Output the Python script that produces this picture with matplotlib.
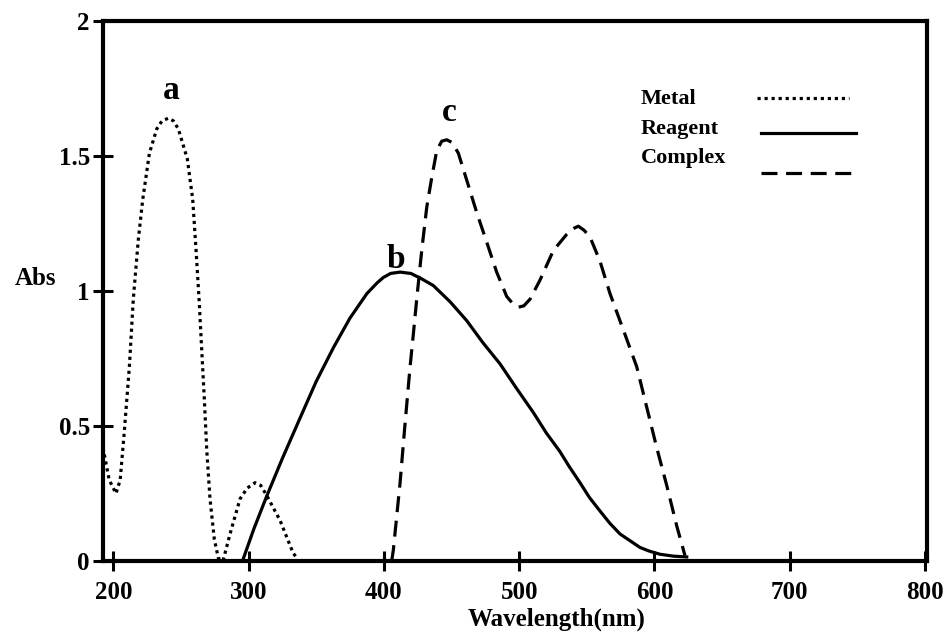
import matplotlib
matplotlib.use('Agg')
from matplotlib import pyplot as plt
import numpy as np

# wavelength (nm) and absorbance
metal_wl = [192.4, 197.0, 202.0, 205.1, 208.0, 211.9, 214.8, 218.5, 221.8, 226.7, 232.1,
            236.0, 240.7, 244.5, 248.1, 254.7, 258.7, 261.2, 263.4, 265.4, 267.3, 269.1,
            271.5, 274.7, 277.7, 281.1, 286.3, 293.7, 299.0, 304.8, 309.0, 313.7, 323.3,
            332.9, 335.8]
metal_abs = [0.42, 0.30, 0.25, 0.30, 0.47, 0.72, 0.97, 1.19, 1.34, 1.51, 1.60,
             1.63, 1.64, 1.63, 1.60, 1.49, 1.34, 1.15, 0.97, 0.78, 0.60, 0.41,
             0.23, 0.08, 0.01, 0.0, 0.10, 0.23, 0.27, 0.29, 0.28, 0.24, 0.15,
             0.03, 0.01]

reagent_wl = [295.5, 304.0, 313.4, 325.0, 338.1, 350.0, 362.7, 375.0, 387.4, 395.0,
              399.6, 405.0, 412.0, 420.0, 428.0, 436.6, 449.0, 461.3, 473.0, 485.9,
              498.0, 510.5, 520.0, 530.2, 537.0, 545.0, 552.0, 559.8, 567.0, 574.6,
              582.0, 589.4, 596.0, 604.1, 614.0, 623.9]
reagent_abs = [0.0, 0.12, 0.24, 0.38, 0.53, 0.665, 0.79, 0.90, 0.99, 1.03,
               1.05, 1.065, 1.07, 1.065, 1.045, 1.02, 0.96, 0.89, 0.81, 0.73,
               0.64, 0.55, 0.475, 0.405, 0.35, 0.29, 0.235, 0.185, 0.14, 0.10,
               0.075, 0.05, 0.037, 0.025, 0.018, 0.015]

complex_wl = [405.8, 407.0, 412.0, 415.7, 419.4, 421.8, 424.3, 428.0, 431.7, 435.4, 439.1,
              442.8, 446.5, 450.5, 455.1, 461.3, 468.7, 476.1, 483.4, 490.8, 495.0, 499.4,
              503.5, 508.1, 515.4, 525.3, 535.2, 539.5, 543.8, 548.0, 552.4, 559.8, 567.2,
              578.2, 586.9, 594.3, 601.7, 609.1, 616.5, 622.6]
complex_abs = [0.0, 0.04, 0.29, 0.51, 0.72, 0.84, 0.97, 1.15, 1.31, 1.42, 1.52,
               1.555, 1.56, 1.55, 1.51, 1.41, 1.29, 1.18, 1.07, 0.98, 0.955, 0.94,
               0.945, 0.97, 1.04, 1.15, 1.21, 1.23, 1.24, 1.225, 1.20, 1.11, 0.99,
               0.84, 0.72, 0.57, 0.42, 0.28, 0.13, 0.02]

x_ticks = [200, 300, 400, 500, 600, 700, 800]
y_ticks = [0, 0.5, 1, 1.5, 2]
y_labels = ['0', '0.5', '1', '1.5', '2']

plt.rcParams['font.family'] = ['Liberation Serif', 'DejaVu Serif']
plt.rcParams['font.weight'] = 'bold'

fig = plt.figure(figsize=(9.49, 6.39), dpi=100)
ax = fig.add_axes([103/949, 1 - 561/639, 824/949, 540/639])

lw = 2.3
dot = (0, (1, 1.2))
dash = (0, (5, 2.7))
ax.plot(metal_wl, metal_abs, color='black', lw=lw, ls=dot, dash_capstyle='butt')
ax.plot(reagent_wl, reagent_abs, color='black', lw=lw, ls='-')
ax.plot(complex_wl, complex_abs, color='black', lw=lw, ls=dash, dash_capstyle='butt')

# peak letters
for wl, ab, txt, off in [(metal_wl, metal_abs, 'a', (3, 28)),
                         (reagent_wl, reagent_abs, 'b', (-4, 13)),
                         (complex_wl, complex_abs, 'c', (2, 27))]:
    i = int(np.argmax(ab))
    ax.annotate(txt, xy=(wl[i], ab[i]), xytext=off, textcoords='offset pixels',
                ha='center', va='center', fontsize=24, fontweight='bold')

ax.set_xlim(192.4, 801.5)
ax.set_ylim(0, 2)
ax.set_xticks(x_ticks)
ax.set_yticks(y_ticks)
ax.set_yticklabels(y_labels)
ax.tick_params(axis='both', direction='inout', length=15, width=2.2, labelsize=18)
ax.tick_params(axis='x', pad=7)
ax.tick_params(axis='y', pad=2)
for s in ax.spines.values():
    s.set_linewidth(3)

ax.set_xlabel('Wavelength(nm)', fontsize=18, fontweight='bold')
ax.xaxis.set_label_coords(0.551, -0.087)
ax.set_ylabel('Abs', fontsize=18, fontweight='bold', rotation=0, ha='center', va='center')
ax.yaxis.set_label_coords(-0.0825, 0.524)

# legend drawn by hand: text on the left, line sample on the right
leg = [('Metal', dot, 0.846, 0.858, 0.794, 0.905),
       ('Reagent', '-', 0.791, 0.793, 0.798, 0.914),
       ('Complex', dash, 0.737, 0.719, 0.798, 0.914)]
for name, style, ty, ly, x0, x1 in leg:
    ax.text(0.653, ty, name, transform=ax.transAxes, fontsize=16, fontweight='bold',
            va='baseline', ha='left')
    ax.plot([x0, x1], [ly, ly], transform=ax.transAxes, color='black', lw=lw,
            ls=style, dash_capstyle='butt')

plt.savefig('out.png', dpi=100)
plt.close()
